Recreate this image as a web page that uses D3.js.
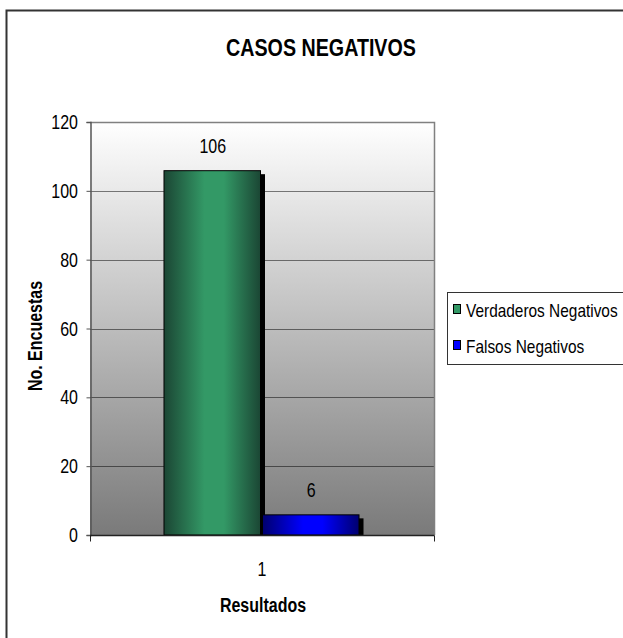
<!DOCTYPE html>
<html>
<head>
<meta charset="utf-8">
<script src="https://cdn.jsdelivr.net/npm/d3@7"></script>
<style>
  html, body { margin: 0; padding: 0; background: #fff; }
  svg { display: block; }
  text { font-family: "Liberation Sans Narrow", "Arial Narrow", "Liberation Sans", Arial, sans-serif; fill: #000; }
</style>
</head>
<body>
<svg id="chart" width="623" height="638"></svg>
<script>
// Chart data
const title = "CASOS NEGATIVOS";
const categories = ["1"];
const seriesNames = ["Verdaderos Negativos", "Falsos Negativos"];
const seriesValues = [106, 6];
const yTicks = [0, 20, 40, 60, 80, 100, 120];
const yTitle = "No. Encuestas";
const xTitle = "Resultados";

// Condensed lettering: squeeze glyphs horizontally
const SQUEEZE = 0.82;
const BODY = 19.5;

const svg = d3.select("#chart");
const defs = svg.append("defs");

// Place a squeezed text at (x, y), optionally rotated
function label(parent, x, y, str, opts = {}) {
  const rot = opts.rotate ? ` rotate(${opts.rotate})` : "";
  return parent.append("text")
    .attr("transform", `translate(${x},${y})${rot} scale(${SQUEEZE},1)`)
    .attr("text-anchor", opts.anchor || "middle")
    .attr("font-size", opts.size || BODY)
    .attr("font-weight", opts.bold ? "bold" : null)
    .text(str);
}

// Outer chart frame (runs past the right and bottom edges)
svg.append("rect")
  .attr("x", 6.5).attr("y", 10.5)
  .attr("width", 640).attr("height", 660)
  .attr("fill", "#fff").attr("stroke", "#333").attr("stroke-width", 2);

const plot = { left: 90, right: 434, top: 122, bottom: 535 };

const y = d3.scaleLinear().domain([0, 120]).range([plot.bottom, plot.top]);
const x0 = d3.scaleBand().domain(categories).range([plot.left, plot.right])
  .paddingInner(0).paddingOuter(0.373);
const x1 = d3.scaleBand().domain(seriesNames).range([0, x0.bandwidth()]);

// Plot background: white fading to gray toward the base
const bg = defs.append("linearGradient").attr("id", "plotBg")
  .attr("x1", 0).attr("y1", 0).attr("x2", 0).attr("y2", 1);
bg.append("stop").attr("offset", 0).attr("stop-color", "#ffffff");
bg.append("stop").attr("offset", 1).attr("stop-color", "#7a7a7a");

svg.append("rect")
  .attr("x", plot.left).attr("y", plot.top)
  .attr("width", plot.right - plot.left).attr("height", plot.bottom - plot.top)
  .attr("fill", "url(#plotBg)");

// Gridlines
svg.append("g").selectAll("line")
  .data(yTicks.filter(d => d > 0))
  .join("line")
  .attr("x1", plot.left).attr("x2", plot.right)
  .attr("y1", d => Math.round(y(d)) + 0.5).attr("y2", d => Math.round(y(d)) + 0.5)
  .attr("stroke", "#000").attr("stroke-opacity", 0.5);

// Plot border (top/right)
svg.append("path")
  .attr("d", `M${plot.left},${plot.top + 0.5}H${plot.right + 0.5}V${plot.bottom}`)
  .attr("fill", "none").attr("stroke", "#808080").attr("stroke-width", 1.5);

// Bar fills: shaded cylinders, dark at the edges
const barColors = {
  "Verdaderos Negativos": { dark: "#1b4634", mid: "#339966" },
  "Falsos Negativos": { dark: "#00006e", mid: "#0000ff" }
};
seriesNames.forEach((s, i) => {
  const g = defs.append("linearGradient").attr("id", "bar" + i)
    .attr("x1", 0).attr("y1", 0).attr("x2", 1).attr("y2", 0);
  const c = barColors[s];
  g.append("stop").attr("offset", 0).attr("stop-color", c.dark);
  g.append("stop").attr("offset", 0.42).attr("stop-color", c.mid);
  g.append("stop").attr("offset", 0.62).attr("stop-color", c.mid);
  g.append("stop").attr("offset", 1).attr("stop-color", c.dark);
});

const barData = seriesNames.map((s, i) => ({ cat: categories[0], name: s, value: seriesValues[i], i }));
const bars = svg.append("g");

// Drop shadows
bars.selectAll("rect.shadow")
  .data(barData)
  .join("rect").attr("class", "shadow")
  .attr("x", d => x0(d.cat) + x1(d.name) + 4)
  .attr("y", d => y(d.value) + 4)
  .attr("width", x1.bandwidth() - 1)
  .attr("height", d => plot.bottom - y(d.value) - 4)
  .attr("fill", "#000");

bars.selectAll("rect.bar")
  .data(barData)
  .join("rect").attr("class", "bar")
  .attr("x", d => x0(d.cat) + x1(d.name) + 0.5)
  .attr("y", d => y(d.value) + 0.5)
  .attr("width", x1.bandwidth() - 2)
  .attr("height", d => plot.bottom - y(d.value) - 0.5)
  .attr("fill", d => `url(#bar${d.i})`)
  .attr("stroke", "#000").attr("stroke-width", 1);

// Value labels
barData.forEach(d => {
  label(bars, x0(d.cat) + x1(d.name) + x1.bandwidth() / 2, y(d.value) - 17, d.value);
});

// Y axis
const yAxis = svg.append("g")
  .attr("transform", `translate(${plot.left + 0.5},0)`)
  .call(d3.axisLeft(y).tickValues(yTicks).tickSize(4).tickFormat(""));
yAxis.select(".domain").attr("stroke", "#555").attr("stroke-width", 1.5);
yAxis.selectAll(".tick line").attr("stroke", "#555");
yTicks.forEach(t => {
  label(svg, plot.left - 12, y(t) + 7, t, { anchor: "end" });
});

// X axis with ticks at the plot's edges
const xAxisG = svg.append("g").attr("transform", `translate(0,${plot.bottom + 0.5})`);
xAxisG.append("line").attr("x1", plot.left).attr("x2", plot.right + 0.5)
  .attr("stroke", "#222").attr("stroke-width", 1.5);
xAxisG.selectAll("line.tk")
  .data([plot.left, plot.right])
  .join("line").attr("class", "tk")
  .attr("x1", d => d + 0.5).attr("x2", d => d + 0.5)
  .attr("y1", 0).attr("y2", 6)
  .attr("stroke", "#222");
categories.forEach(c => {
  label(svg, x0(c) + x0.bandwidth() / 2, plot.bottom + 41, c);
});

// Titles
label(svg, 321, 56, title, { size: 24, bold: true });
label(svg, 263, 612, xTitle, { bold: true });
label(svg, 42, 336, yTitle, { bold: true, rotate: -90 });

// Legend
const legend = svg.append("g");
legend.append("rect")
  .attr("x", 447.5).attr("y", 292.5)
  .attr("width", 200).attr("height", 72)
  .attr("fill", "#fff").attr("stroke", "#333").attr("stroke-width", 1);
barData.forEach((d, i) => {
  const cy = 310 + i * 36;
  legend.append("rect")
    .attr("x", 453.5).attr("y", cy - 5.5)
    .attr("width", 7).attr("height", 9)
    .attr("fill", barColors[d.name].mid)
    .attr("stroke", "#000");
  label(legend, 466, cy + 7, d.name, { anchor: "start", size: 18.8 });
});
</script>
</body>
</html>
